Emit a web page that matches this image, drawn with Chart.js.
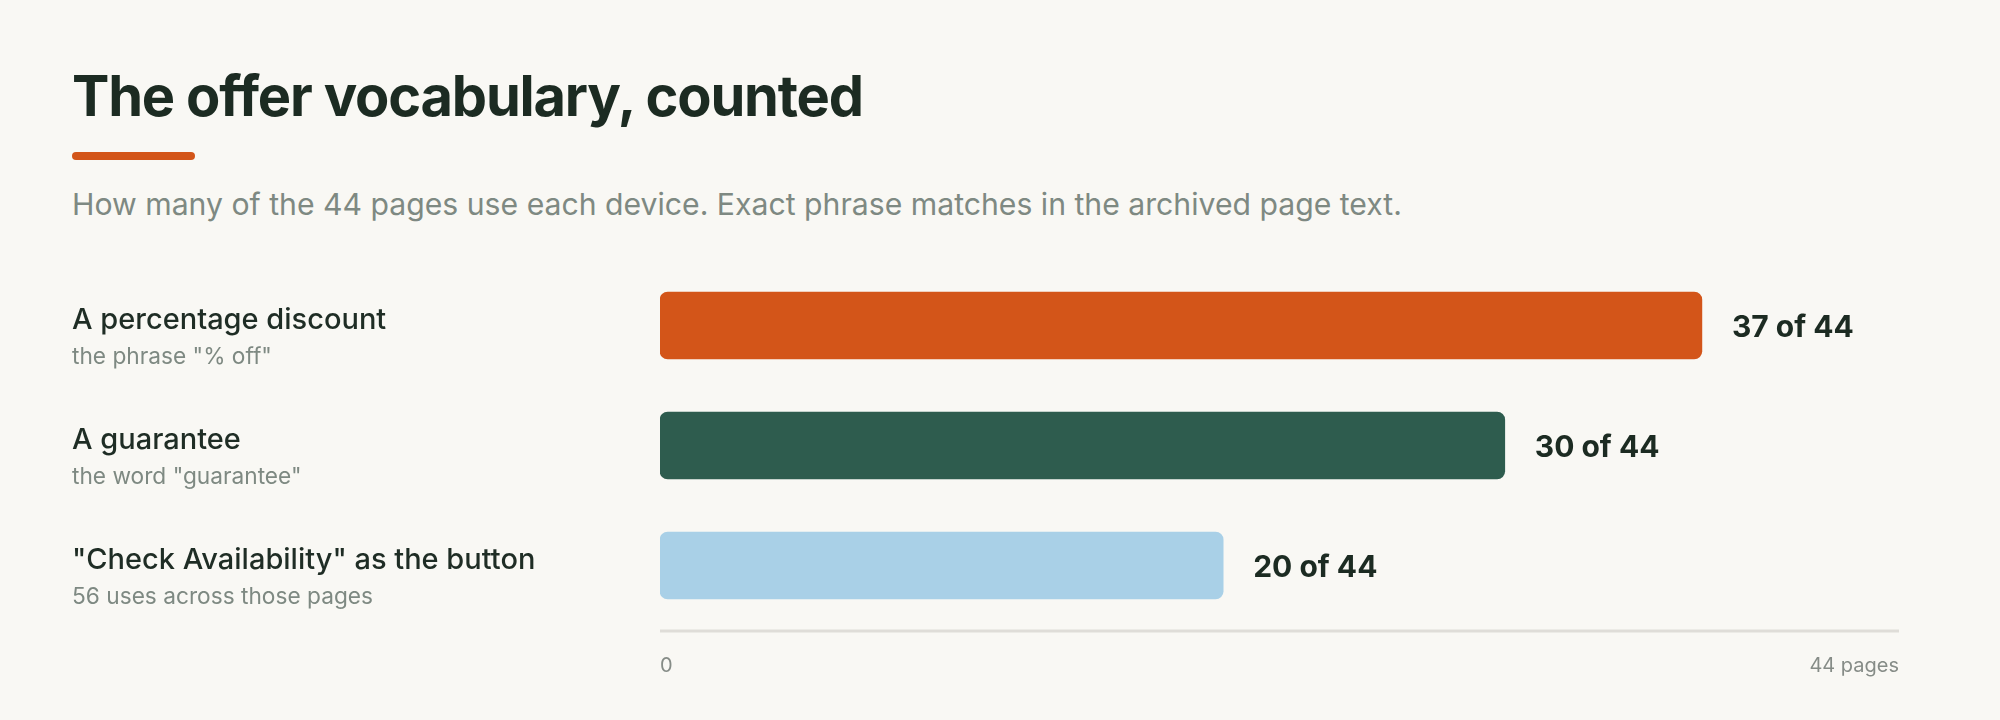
<!DOCTYPE html>
<html>
<head>
<meta charset="utf-8">
<script src="https://cdn.jsdelivr.net/npm/chart.js@4"></script>
<style>
  html, body { margin: 0; padding: 0; background: #f9f8f4; }
  body { width: 2000px; height: 720px; position: relative; overflow: hidden; font-family: Inter, "Liberation Sans", Arial, sans-serif; }
  #title { position: absolute; left: 72px; top: 68px; font-size: 56px; line-height: 56px; font-weight: 700; color: #1c2b22; letter-spacing: -1.2px; margin: 0; white-space: nowrap; }
  #rule { position: absolute; left: 72px; top: 152px; width: 123px; height: 8px; border-radius: 4px; background: #d35519; }
  #sub { position: absolute; left: 72px; top: 188px; font-size: 30.2px; line-height: 32px; color: #7e8982; white-space: nowrap; }
  #chart { position: absolute; left: 0; top: 0; }
</style>
</head>
<body>
<h1 id="title">The offer vocabulary, counted</h1>
<div id="rule"></div>
<div id="sub">How many of the 44 pages use each device. Exact phrase matches in the archived page text.</div>
<canvas id="chart" width="2000" height="720"></canvas>
<script>
document.addEventListener('DOMContentLoaded', function() {
    // Data
    const categories = ['A percentage discount', 'A guarantee', '"Check Availability" as the button'];
    const notes = ['the phrase "% off"', 'the word "guarantee"', '56 uses across those pages'];
    const pageCounts = [37, 30, 20];
    const totalPages = 44;
    const barColors = ['#d35519', '#2e5c4e', '#a9d0e7'];
    const tickLabels = ['0', '44 pages'];

    const font = 'Inter, "Liberation Sans", Arial, sans-serif';

    // Left labels, value labels and the base line
    const rowText = {
        id: 'rowText',
        afterDatasetsDraw(chart) {
            const ctx = chart.ctx;
            const x = chart.scales.x;
            const y = chart.scales.y;
            const area = chart.chartArea;
            ctx.save();
            ctx.strokeStyle = '#dfddd8';
            ctx.lineWidth = 3;
            ctx.beginPath();
            ctx.moveTo(area.left, area.bottom + 5.5);
            ctx.lineTo(area.right, area.bottom + 5.5);
            ctx.stroke();

            ctx.textAlign = 'left';
            ctx.textBaseline = 'alphabetic';
            categories.forEach((cat, i) => {
                const cy = y.getPixelForValue(i);
                ctx.fillStyle = '#1f2d25';
                ctx.font = '500 29px ' + font;
                ctx.fillText(cat, 72, cy + 3);
                ctx.fillStyle = '#7e8982';
                ctx.font = '22.7px ' + font;
                ctx.fillText(notes[i], 72, cy + 38);

                ctx.fillStyle = '#1c2b22';
                ctx.font = '700 30px ' + font;
                ctx.fillText(pageCounts[i] + ' of ' + totalPages, x.getPixelForValue(pageCounts[i]) + 30, cy + 11);
            });
            ctx.restore();
        }
    };

    const ctx = document.getElementById('chart').getContext('2d');
    new Chart(ctx, {
        type: 'bar',
        data: {
            labels: categories,
            datasets: [{
                data: pageCounts,
                backgroundColor: barColors,
                borderWidth: 0,
                borderRadius: 8,
                borderSkipped: false,
                barThickness: 67
            }]
        },
        options: {
            indexAxis: 'y',
            responsive: false,
            animation: false,
            layout: { padding: { left: 660, right: 101, top: 265.5, bottom: 34.5 } },
            scales: {
                x: {
                    min: 0,
                    max: totalPages,
                    grid: { display: false, drawTicks: false },
                    border: { display: false },
                    afterFit(s) { s.height = 60; },
                    ticks: {
                        stepSize: totalPages,
                        align: 'inner',
                        padding: 28,
                        color: '#868c87',
                        font: { family: font, size: 20 },
                        callback: (v, i) => tickLabels[i]
                    }
                },
                y: { display: false }
            },
            plugins: {
                legend: { display: false },
                tooltip: { enabled: false }
            }
        },
        plugins: [rowText]
    });
});
</script>
</body>
</html>
